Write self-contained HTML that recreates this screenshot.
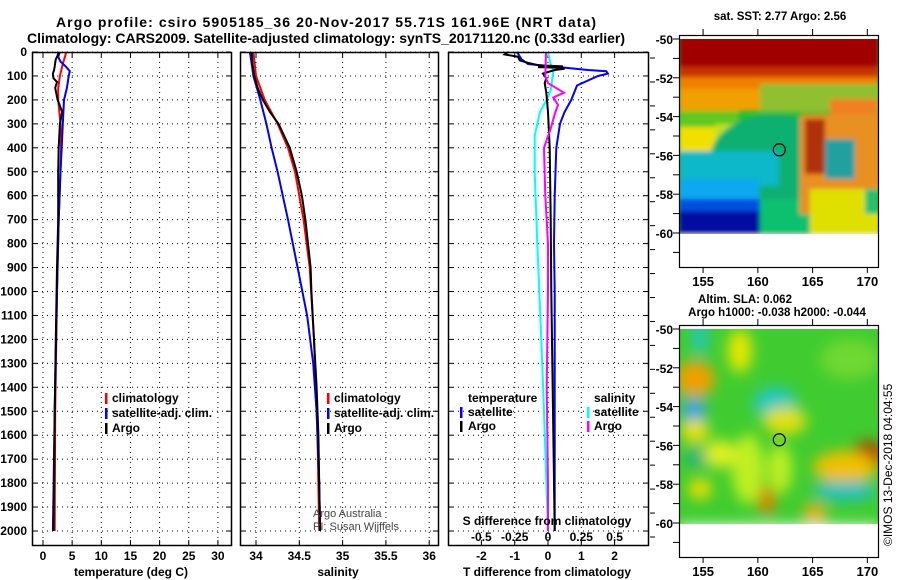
<!DOCTYPE html>
<html><head><meta charset="utf-8"><style>
body{margin:0;background:#fff;}
svg{display:block;font-family:"Liberation Sans",sans-serif;font-weight:bold;}
</style></head><body>
<svg id="c" width="900" height="580" xmlns="http://www.w3.org/2000/svg">
<defs>
<filter id="bl" x="-10%" y="-10%" width="120%" height="120%"><feGaussianBlur stdDeviation="2.5"/></filter>
<filter id="bl2" x="-30%" y="-30%" width="160%" height="160%"><feGaussianBlur stdDeviation="7"/></filter>
<clipPath id="m1"><rect x="679" y="39" width="199" height="195"/></clipPath>
<clipPath id="m2"><rect x="679" y="329" width="199" height="195"/></clipPath>
</defs>
<text x="326" y="27" font-size="14" text-anchor="middle" textLength="540">Argo profile: csiro 5905185_36 20-Nov-2017 55.71S 161.96E (NRT data)</text>
<text x="326" y="43" font-size="14" text-anchor="middle" textLength="598">Climatology: CARS2009. Satellite-adjusted climatology: synTS_20171120.nc (0.33d earlier)</text>
<g id="maps"></g>
<g id="plots"></g>
</svg>
<script>
// ---- data ----
const tArgoD=[0,15,30,45,60,75,90,110,125,150,200,250,300,400,500,700,900,1200,1500,1800,2000];
const tArgoV=[2.7,2.5,2.2,2.1,2.0,1.9,1.7,1.8,2.4,2.1,2.5,3.3,2.9,2.7,2.6,2.6,2.4,2.2,2.0,1.9,1.8];
const tClimD=[0,50,100,150,200,300,400,500,700,1000,1500,2000];
const tClimV=[4.0,3.4,2.9,2.6,2.6,3.0,3.1,3.0,2.7,2.4,2.1,2.0];
const tSatD=[0,20,40,60,80,100,150,200,300,400,500,700,1000,1500,2000];
const tSatV=[2.9,2.6,3.0,3.9,4.6,4.4,4.1,3.6,3.4,3.2,3.0,2.7,2.4,2.0,1.7];
const sArgoD=[0,50,100,150,200,250,300,400,500,600,700,800,900,1000,1200,1400,1600,1800,2000];
const sArgoV=[33.95,33.96,33.98,34.02,34.08,34.16,34.26,34.39,34.47,34.53,34.57,34.60,34.63,34.64,34.67,34.70,34.72,34.73,34.74];
const sClimD=[0,100,200,300,400,500,700,900,1200,1600,2000];
const sClimV=[33.97,34.0,34.1,34.25,34.37,34.45,34.55,34.62,34.67,34.71,34.73];
const sSatD=[0,50,100,200,300,400,500,700,900,1100,1300,1500,1800,2000];
const sSatV=[33.93,33.95,33.97,34.05,34.12,34.18,34.25,34.37,34.48,34.59,34.66,34.70,34.73,34.74];
const dTArgoD=[0,10,20,35,45,55,60,63,66,70,75,90,110,130,170,250,400,700,1000,1500,2000];
const dTArgoV=[-1.2,-1.3,-0.9,-0.85,-0.6,-0.3,0.45,-0.3,0.36,0.5,0.2,-0.15,-0.05,-0.1,-0.05,0,0.05,0.08,0.1,0.15,0.2];
const dTSatD=[0,30,50,75,80,90,100,140,200,250,300,400,600,800,1000,1500,2000];
const dTSatV=[-0.93,-0.8,-0.6,1.2,1.75,1.8,1.5,0.87,0.7,0.5,0.36,0.25,0.2,0.18,0.2,0.2,0.2];
const dSArgoD=[0,100,130,170,190,220,260,320,400,600,800,1000,1400,1800,2000];
const dSArgoV=[-0.015,-0.02,0.0,0.12,0.04,0.075,0.05,0.02,-0.03,-0.02,0.0,0.0,-0.01,0.0,0.0];
const dSSatD=[0,50,80,160,200,250,350,500,800,1200,1500,2000];
const dSSatV=[0.0,0.02,0.04,0.02,-0.01,-0.06,-0.1,-0.1,-0.08,-0.05,-0.03,0.0];
const depthTicks=[0,100,200,300,400,500,600,700,800,900,1000,1100,1200,1300,1400,1500,1600,1700,1800,1900,2000];
const tTicks=[0,5,10,15,20,25,30];
const sTicks=[34,34.5,35,35.5,36];
const dTTicks=[-2,-1,0,1,2];
const dSTicks=[-0.5,-0.25,0,0.25,0.5];
const dSTickLabels=["-0.5","-0.25","0","0.25","0.5"];
const latTicks=[-50,-52,-54,-56,-58,-60];
const lonTicks=[155,160,165,170];

const NS="http://www.w3.org/2000/svg";
const plots=document.getElementById('plots');
function mk(tag,attrs,parent,text){const e=document.createElementNS(NS,tag);for(const k in attrs)e.setAttribute(k,attrs[k]);if(text!==undefined)e.textContent=text;(parent||plots).appendChild(e);return e;}
const yD=d=>52+d*0.2395;
const xT=t=>43+t*5.83;
const xS=s=>256+(s-34)*86.6;
const xDT=t=>548+t*33.3;
const xDS=s=>548+s*133.2;
const TOP=52,BOT=545;

function panel(x0,x1,name){
  const g=mk('g',{});
  
  
  depthTicks.forEach(d=>{const l=mk('line',{x1:x0,x2:x1,y1:yD(d),y2:yD(d),stroke:'#000','stroke-width':1,'stroke-dasharray':'1,4'},g);
    
    mk('line',{x1:x0,x2:x0+5,y1:yD(d),y2:yD(d),stroke:'#000'},g);mk('line',{x1:x1-5,x2:x1,y1:yD(d),y2:yD(d),stroke:'#000'},g);});
  return g;
}
function frame(g,x0,x1){const r=mk('rect',{x:x0+0.5,y:TOP+0.5,width:x1-x0,height:BOT-TOP,fill:'none',stroke:'#000','stroke-width':1.5},g);}
function vgrid(g,ticks,xf){ticks.forEach(t=>{const l=mk('line',{x1:xf(t),x2:xf(t),y1:TOP,y2:BOT,stroke:'#000','stroke-dasharray':'1,4'},g);
  
  mk('line',{x1:xf(t),x2:xf(t),y1:TOP,y2:TOP+5,stroke:'#000'},g);mk('line',{x1:xf(t),x2:xf(t),y1:BOT-5,y2:BOT,stroke:'#000'},g);});}
function series(g,D,V,xf,color,name){const pts=D.map((d,i)=>xf(V[i]).toFixed(1)+','+yD(d).toFixed(1)).join(' ');
  const p=mk('polyline',{points:pts,fill:'none',stroke:color,'stroke-width':2},g);}
function txt(x,y,s,attrs,name,parent){const t=mk('text',Object.assign({x:x,y:y,'font-size':12},attrs||{}),parent,s);return t;}
function legbar(x,y,c,g){const r=mk('rect',{x:x,y:y-10,width:2.5,height:11,fill:c},g);}

depthTicks.forEach(d=>txt(27,yD(d)+4,String(d),{'text-anchor':'end'},'depth-tick-label'));

let g=panel(32,231,'temperature-panel');
vgrid(g,tTicks,xT);
series(g,tClimD,tClimV,xT,'#f00','temperature-climatology-line');
series(g,tSatD,tSatV,xT,'#00f','temperature-satellite-line');
series(g,tArgoD,tArgoV,xT,'#000','temperature-argo-line');
frame(g,32,231);
tTicks.forEach(t=>txt(xT(t),560,String(t),{'text-anchor':'middle'},'temperature-tick-label',g));
txt(131,576,'temperature (deg C)',{'text-anchor':'middle'},'temperature-axis-title',g);
[['climatology','#f00'],['satellite-adj. clim.','#00f'],['Argo','#000']].forEach((e,i)=>{legbar(105,403+i*15,e[1],g);txt(112,402+i*15,e[0],{},'legend-entry',g);});

g=panel(240,438,'salinity-panel');
vgrid(g,sTicks,xS);
series(g,sClimD,sClimV,xS,'#f00','salinity-climatology-line');
series(g,sSatD,sSatV,xS,'#00f','salinity-satellite-line');
series(g,sArgoD,sArgoV,xS,'#000','salinity-argo-line');
frame(g,240,438);
sTicks.forEach(t=>txt(xS(t),560,String(t),{'text-anchor':'middle'},'salinity-tick-label',g));
txt(338,576,'salinity',{'text-anchor':'middle'},'salinity-axis-title',g);
[['climatology','#f00'],['satellite-adj. clim.','#00f'],['Argo','#000']].forEach((e,i)=>{legbar(327,403+i*15,e[1],g);txt(334,402+i*15,e[0],{},'legend-entry',g);});
txt(313,517,'Argo Australia',{'font-weight':'normal','font-size':11,fill:'#444'},'credit-argo-australia',g);
txt(313,530,'PI: Susan Wijffels',{'font-weight':'normal','font-size':11,fill:'#444'},'credit-pi',g);

g=panel(448,648,'difference-panel');
vgrid(g,dTTicks,xDT);
series(g,dSSatD,dSSatV,xDS,'#0ff','salinity-satellite-diff-line');
series(g,dTSatD,dTSatV,xDT,'#00f','temperature-satellite-diff-line');
series(g,dTArgoD,dTArgoV,xDT,'#000','temperature-argo-diff-line');
series(g,dSArgoD,dSArgoV,xDS,'#f0f','salinity-argo-diff-line');
frame(g,448,648);
depthTicks.forEach(d=>mk('line',{x1:650,x2:655,y1:yD(d)+6,y2:yD(d)+6,stroke:'#000'},g));
dTTicks.forEach(t=>txt(xDT(t),560,String(t),{'text-anchor':'middle'},'t-diff-tick-label',g));
dSTicks.forEach((t,i)=>txt(xDS(t),541,dSTickLabels[i],{'text-anchor':'middle'},'s-diff-tick-label',g));
txt(547,525,'S difference from climatology',{'text-anchor':'middle'},'s-diff-axis-title',g);
txt(547,576,'T difference from climatology',{'text-anchor':'middle'},'t-diff-axis-title',g);
txt(468,402,'temperature',{},'legend-title-temperature',g);
txt(594,402,'salinity',{},'legend-title-salinity',g);
legbar(460,417,'#00f',g);txt(468,416,'satellite',{},'legend-entry',g);
legbar(460,431,'#000',g);txt(468,430,'Argo',{},'legend-entry',g);
legbar(587,417,'#0ff',g);txt(594,416,'satellite',{},'legend-entry',g);
legbar(587,431,'#f0f',g);txt(594,430,'Argo',{},'legend-entry',g);

// ---- maps ----
const maps=document.getElementById('maps');
const mapLat1=y0=>(lat=>y0+(-50-lat)*19.4);
const mapLon=lon=>679+(lon-152.8)*10.95;
function mapFrame(y0,clipId,blobs,bg,name){
  const g=mk('g',{},maps);
  const yl=mapLat1(y0);
  const c=mk('g',{'clip-path':'url(#'+clipId+')'},g);
  mk('rect',{x:679,y:y0,width:199,height:195,fill:bg},c);
  const f=mk('g',{filter:'url(#'+(clipId==='m1'?'bl':'bl2')+')'},c);
  blobs.forEach(b=>mk(b[0]==='r'?'rect':'ellipse',b[0]==='r'?{x:b[1],y:y0+b[2],width:b[3],height:b[4],fill:b[5]}:{cx:b[1],cy:y0+b[2],rx:b[3],ry:b[4],fill:b[5]},f));
  const mk1=mk('circle',{cx:mapLon(161.96),cy:yl(-55.71),r:6,fill:'none',stroke:'#000','stroke-width':1.2},g);
  
  mk('rect',{x:679.5,y:y0-4+0.5,width:199,height:232,fill:'none',stroke:'#000','stroke-width':1.2},g);
  latTicks.forEach(l=>{mk('line',{x1:673,x2:679,y1:yl(l),y2:yl(l),stroke:'#000'},g);txt(673,yl(l)+5,String(l),{'text-anchor':'end'},'latitude-tick-label',g);});
  [-51,-53,-55,-57,-59,-61].forEach(l=>mk('line',{x1:673,x2:679,y1:yl(l),y2:yl(l),stroke:'#000'},g));
  lonTicks.forEach(l=>{mk('line',{x1:mapLon(l),x2:mapLon(l),y1:y0-4,y2:y0-10,stroke:'#000'},g);mk('line',{x1:mapLon(l),x2:mapLon(l),y1:y0+228,y2:y0+234,stroke:'#000'},g);txt(mapLon(l),y0+247,String(l),{'text-anchor':'middle','font-size':13},'longitude-tick-label',g);});
  return g;
}
const sstBlobs=[
 ['r',679,-5,200,35,'#a00000'],['r',679,28,200,12,'#c83000'],['r',679,38,200,14,'#f08000'],
 ['r',679,50,100,22,'#f0a000'],['r',760,45,120,28,'#90c030'],['r',830,60,48,20,'#f08020'],
 ['r',679,72,60,20,'#60c820'],['r',679,88,40,25,'#f0e000'],['r',715,85,45,30,'#c0e020'],
 ['e',775,120,65,45,'#10b070'],['r',679,112,100,35,'#10b8c8'],['r',679,140,80,25,'#10a8f0'],
 ['r',679,160,110,18,'#0050e0'],['r',679,172,120,30,'#0010a0'],['r',760,160,60,40,'#10c070'],
 ['r',800,75,80,100,'#e89020'],['r',805,80,20,55,'#b03010'],['r',825,100,30,40,'#20a0a0'],
 ['r',810,150,70,50,'#e0e000'],['r',865,150,15,25,'#20c070'],
 ['r',679,196,200,20,'#ffffff']
];
const slaBlobs=[
 ['e',695,50,14,12,'#c03000'],['e',695,50,20,18,'#f0a000'],['e',694,82,12,12,'#20a0f0'],['e',740,22,12,22,'#e8e800'],
 ['e',775,74,22,16,'#20c8c0'],['e',700,8,8,18,'#20c8c0'],['e',785,92,22,14,'#e0e010'],['e',868,128,16,16,'#b03000'],
 ['e',845,138,32,16,'#f0c000'],['e',845,162,32,10,'#20c0c0'],['e',695,102,14,12,'#f0e000'],['e',767,172,8,15,'#e08000'],
 ['e',815,185,12,10,'#f0b000'],['e',700,160,12,10,'#f0e000'],['e',700,128,15,10,'#20b080'],['e',748,140,16,35,'#c0f020'],
 ['e',720,125,16,14,'#e0f020'],['e',780,140,12,25,'#c0f020'],['e',850,30,30,20,'#70d830'],
 ['r',679,196,200,20,'#ffffff']
];
mapFrame(39,'m1',sstBlobs,'#20c030','sst-map');
mapFrame(329,'m2',slaBlobs,'#40cc30','sla-map');
txt(780,20,'sat. SST: 2.77 Argo: 2.56',{'text-anchor':'middle','font-size':11.5},'sst-map-title',maps);
txt(745,303,'Altim. SLA: 0.062',{'text-anchor':'middle','font-size':11.5},'sla-map-title',maps);
txt(777,316,'Argo h1000: -0.038 h2000: -0.044',{'text-anchor':'middle','font-size':11.5},'sla-map-subtitle',maps);
txt(0,0,'\u00a9IMOS 13-Dec-2018 04:04:55',{'font-weight':'normal','font-size':12,transform:'translate(892,546) rotate(-90)'},'timestamp',maps);
</script>
</body></html>
